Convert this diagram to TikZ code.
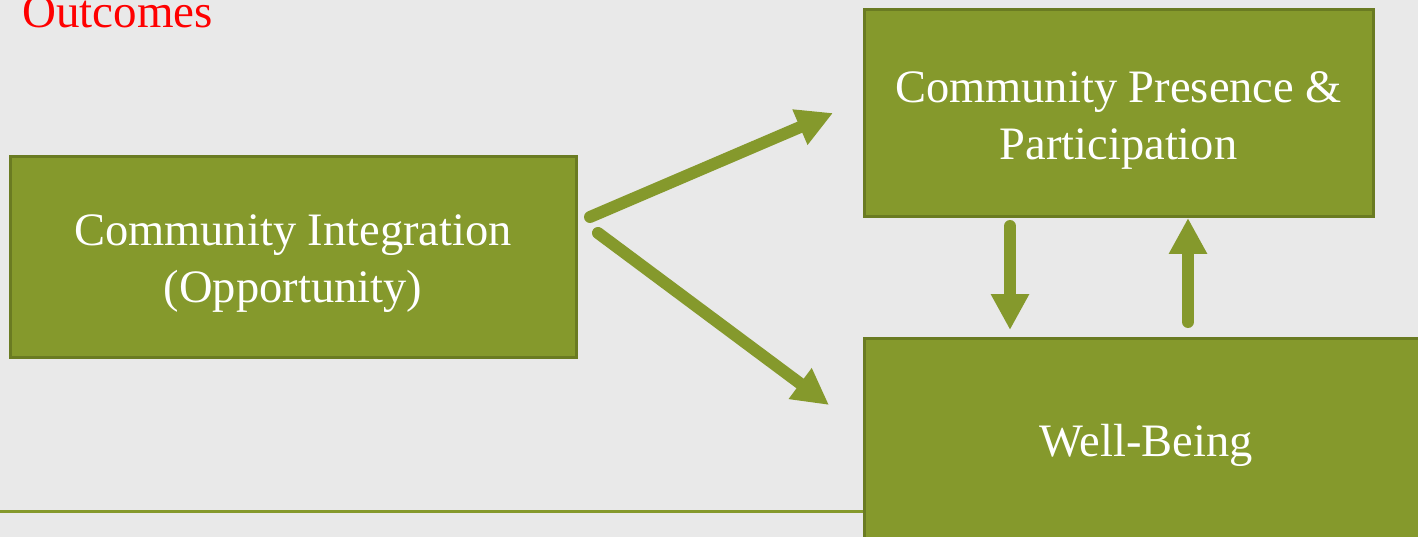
\documentclass[tikz,border=0pt]{standalone}
\usepackage{fontspec}
\setmainfont{Liberation Serif}
\usetikzlibrary{arrows.meta}
\definecolor{olive}{HTML}{85992C}
\definecolor{olivedark}{HTML}{6A7B22}
\definecolor{paper}{HTML}{E9E9E9}
\definecolor{titlered}{HTML}{FF0000}
\begin{document}
\begin{tikzpicture}[x=1pt,y=-1pt,
  box/.style={draw=olivedark, line width=3pt, fill=olive, inner sep=0pt},
  boxtext/.style={text=white, inner sep=0pt, align=center,
    font=\fontsize{46.5}{57}\selectfont},
  flow/.style={draw=olive, line width=12pt, line cap=round,
    -{Triangle[length=36pt,width=36pt]}}]
  % page and background
  \fill[paper] (0,0) rectangle (1418,537);
  \useasboundingbox (0,0) rectangle (1418,537);
  \begin{scope}
    \clip (0,0) rectangle (1418,537);
    % heading
    \node[anchor=base west, text=titlered, inner sep=0pt,
      font=\fontsize{47}{57}\selectfont] (title) at (22,28) {Outcomes};
    % footer rule
    \draw[olive, line width=3.5pt] (0,511.5) -- (864,511.5);
    % boxes
    \node[box, minimum width=566pt, minimum height=200pt] (ci) at (293,257) {};
    \node[box, minimum width=509pt, minimum height=207pt] (cpp) at (1118.5,113.5) {};
    \node[box, minimum width=564pt, minimum height=204pt] (wb) at (1146,440) {};
    % box captions
    \node[boxtext] (ci-text) at ([yshift=-7pt]ci.center)
      {Community Integration\\(Opportunity)};
    \node[boxtext] (cpp-text) at ([yshift=-7pt]cpp.center)
      {Community Presence \&\\Participation};
    \node[boxtext] (wb-text) at ([yshift=-5pt]wb.center) {Well-Being};
    % arrow end points
    \coordinate (a1s) at (590,217);
    \coordinate (a1e) at (833,113);
    \coordinate (a2s) at (598,233);
    \coordinate (a2e) at (829,405);
    \coordinate (a3s) at (1010,226);
    \coordinate (a3e) at (1010,330);
    \coordinate (a4s) at (1188,322);
    \coordinate (a4e) at (1188,218);
    % connectors
    \draw[flow] (a1s) -- (a1e);
    \draw[flow] (a2s) -- (a2e);
    \draw[flow] (a3s) -- (a3e);
    \draw[flow] (a4s) -- (a4e);
  \end{scope}
\end{tikzpicture}
\end{document}
